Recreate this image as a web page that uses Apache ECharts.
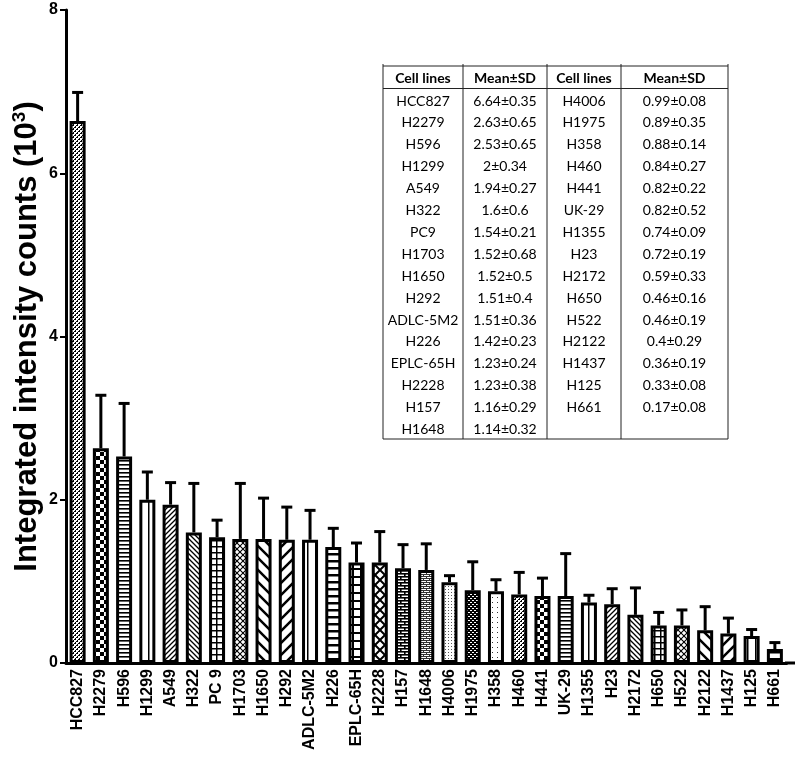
<!DOCTYPE html>
<html><head><meta charset="utf-8">
<script src="https://cdn.jsdelivr.net/npm/echarts@6/dist/echarts.min.js"></script>
<style>html,body{margin:0;padding:0;background:#fff}#c{width:800px;height:761px}</style>
</head><body><div id="c"></div>
<script>
const cellLines = ['HCC827','H2279','H596','H1299','A549','H322','PC 9','H1703','H1650','H292','ADLC-5M2','H226','EPLC-65H','H2228','H157','H1648','H4006','H1975','H358','H460','H441','UK-29','H1355','H23','H2172','H650','H522','H2122','H1437','H125','H661'];
const tableNames = ['HCC827','H2279','H596','H1299','A549','H322','PC9','H1703','H1650','H292','ADLC-5M2','H226','EPLC-65H','H2228','H157','H1648','H4006','H1975','H358','H460','H441','UK-29','H1355','H23','H2172','H650','H522','H2122','H1437','H125','H661'];
const means = [6.64,2.63,2.53,2,1.94,1.6,1.54,1.52,1.52,1.51,1.51,1.42,1.23,1.23,1.16,1.14,0.99,0.89,0.88,0.84,0.82,0.82,0.74,0.72,0.59,0.46,0.46,0.4,0.36,0.33,0.17];
const sds = [0.35,0.65,0.65,0.34,0.27,0.6,0.21,0.68,0.5,0.4,0.36,0.23,0.24,0.38,0.29,0.32,0.08,0.35,0.14,0.27,0.22,0.52,0.09,0.19,0.33,0.16,0.19,0.29,0.19,0.08,0.08];
const yTicks = [0,2,4,6,8];

function mk(w,h,fn){const c=document.createElement('canvas');c.width=w;c.height=h;const g=c.getContext('2d');g.fillStyle='#fff';g.fillRect(0,0,w,h);g.fillStyle='#000';g.strokeStyle='#000';fn(g,w,h);return {image:c,repeat:'repeat'};}
function slash(g,s,lw){g.lineWidth=lw;g.beginPath();g.moveTo(-1,s+1);g.lineTo(s+1,-1);g.moveTo(-s-1,s+1);g.lineTo(1,-1);g.moveTo(s-1,2*s+1);g.lineTo(2*s+1,s-1);g.moveTo(-1,1);g.lineTo(1,-1);g.moveTo(s-1,s+1);g.lineTo(s+1,s-1);g.stroke();}
function back(g,s,lw){g.lineWidth=lw;g.beginPath();g.moveTo(-1,-1);g.lineTo(s+1,s+1);g.moveTo(-1,s-1);g.lineTo(1,s+1);g.moveTo(s-1,-1);g.lineTo(s+1,1);g.stroke();}
const patterns = [
  mk(4,4,g=>{g.fillRect(0,0,2,2);g.fillRect(2,2,2,2);g.fillStyle='#fff';g.fillRect(0,0,1,1);g.fillRect(2,2,1,1);}),
  mk(8,8,g=>{g.fillRect(0,0,4,4);g.fillRect(4,4,4,4);}),
  mk(4,4,g=>{g.fillRect(0,0,4,1.6);}),
  mk(8,8,g=>{g.fillRect(4,0,1.5,8);}),
  mk(5,5,g=>slash(g,5,1.3)),
  mk(5,5,g=>back(g,5,1.3)),
  mk(6,6,g=>{g.fillRect(0,0,6,1.5);g.fillRect(0,0,1.5,6);}),
  mk(6,6,g=>{slash(g,6,1.1);back(g,6,1.1);}),
  mk(12,12,g=>back(g,12,2.5)),
  mk(12,12,g=>slash(g,12,2.5)),
  mk(8,8,g=>{g.fillRect(3,0,1.5,8);}),
  mk(7,7,g=>{g.fillRect(0,0,7,2.5);}),
  mk(8,8,g=>{g.fillRect(0,0,8,2);g.fillRect(0,0,2,8);}),
  mk(10,10,g=>{slash(g,10,2);back(g,10,2);}),
  mk(8,6,g=>{g.fillRect(0,0,8,1.6);g.fillRect(0,3,8,1.6);g.fillRect(0,0,1.6,3);g.fillRect(4,3,1.6,3);}),
  mk(6,4,g=>{g.fillStyle='#333';g.fillRect(0,0,6,1);g.fillRect(0,2,6,1);g.fillRect(0,0,1,2);g.fillRect(3,2,1,2);}),
  mk(3,3,g=>{g.fillStyle='#555';g.fillRect(1,1,1,1);}),
  mk(4,4,g=>{g.fillRect(0,0,4,4);g.fillStyle='#fff';g.fillRect(0,0,2,1);g.fillRect(2,2,2,1);}),
  mk(5,5,g=>{g.fillStyle='#333';g.fillRect(2,2,1,1);})
];

const chart = echarts.init(document.getElementById('c'));
const tFont = '14px Lato';
const tx0=383, tx1=463, tx2=547, tx3=621, tx4=728, ty0=66, ty1=88.5, ty2=439, rowH=21.9, row0=101;
const g = [];
const L = (x1,y1,x2,y2)=>g.push({type:'line',shape:{x1,y1,x2,y2},style:{stroke:'#222',lineWidth:1},z:10});
L(tx0,ty0,tx4,ty0);L(tx0,ty1,tx4,ty1);L(tx0,ty2,tx4,ty2);
[tx0,tx1,tx2,tx3,tx4].forEach(x=>L(x,ty0-2,x,ty2));
const T=(x,y,t,b)=>g.push({type:'text',x,y,style:{text:t,font:(b?'bold ':'')+tFont,fill:'#000',align:'center',verticalAlign:'middle'},z:10});
T((tx0+tx1)/2,78,'Cell lines',1);T((tx1+tx2)/2,78,'Mean±SD',1);T((tx2+tx3)/2,78,'Cell lines',1);T((tx3+tx4)/2,78,'Mean±SD',1);
tableNames.forEach((n,i)=>{const c=i<16?0:1;const r=i<16?i:i-16;const y=row0+r*rowH;
  T(c?(tx2+tx3)/2:(tx0+tx1)/2,y,n);T(c?(tx3+tx4)/2:(tx1+tx2)/2,y,means[i]+'±'+sds[i]);});
g.push({type:'line',shape:{x1:785,y1:663,x2:795,y2:663},style:{stroke:'#000',lineWidth:3},z:5});

chart.setOption({
  animation:false,
  grid:{left:66,right:13.5,top:10,bottom:98},
  xAxis:{type:'category',data:cellLines,
    axisLine:{lineStyle:{color:'#000',width:3}},
    axisTick:{alignWithLabel:true,length:6,lineStyle:{color:'#000',width:2}},
    axisLabel:{rotate:90,interval:0,color:'#000',fontFamily:'Liberation Sans',fontWeight:'bold',fontSize:16,margin:6}},
  yAxis:{type:'value',min:0,max:8,interval:2,
    name:'{a|Integrated intensity counts (10}{s|3}{a|)}',nameLocation:'middle',nameGap:22,
    nameTextStyle:{rich:{a:{fontFamily:'Liberation Sans',fontWeight:'bold',fontSize:31,color:'#000',lineHeight:34},s:{fontFamily:'Liberation Sans',fontWeight:'bold',fontSize:19,color:'#000',verticalAlign:'top',lineHeight:34,padding:[0,0,14,0]}}},
    splitLine:{show:false},
    axisLine:{show:true,lineStyle:{color:'#000',width:3}},
    axisTick:{show:true,length:6,lineStyle:{color:'#000',width:2}},
    axisLabel:{show:false}},
  series:[
    {type:'bar',barWidth:16,data:means.map((v,i)=>({value:v,itemStyle:{color:patterns[i%patterns.length]}})),
      itemStyle:{borderColor:'#000',borderWidth:3},z:3},
    {type:'custom',z:2,data:means.map((v,i)=>[i,v,v+sds[i]]),
      renderItem:(p,api)=>{const a=api.coord([api.value(0),api.value(1)]);const b=api.coord([api.value(0),api.value(2)]);
        return {type:'group',children:[
          {type:'line',shape:{x1:a[0],y1:a[1],x2:b[0],y2:b[1]},style:{stroke:'#000',lineWidth:3}},
          {type:'line',shape:{x1:b[0]-5.5,y1:b[1],x2:b[0]+5.5,y2:b[1]},style:{stroke:'#000',lineWidth:3}}]};}}
  ],
  graphic:g
});
const axisX = chart.convertToPixel({xAxisIndex:0}, 0) - 11.6;
yTicks.forEach(v=>{
  const y = chart.convertToPixel({yAxisIndex:0}, v);
  g.push({type:'text',x:58,y:y,style:{text:String(v),font:'bold 16px "Liberation Sans"',fill:'#000',align:'right',verticalAlign:'middle'},z:10});
});
chart.setOption({graphic:g});
</script></body></html>
